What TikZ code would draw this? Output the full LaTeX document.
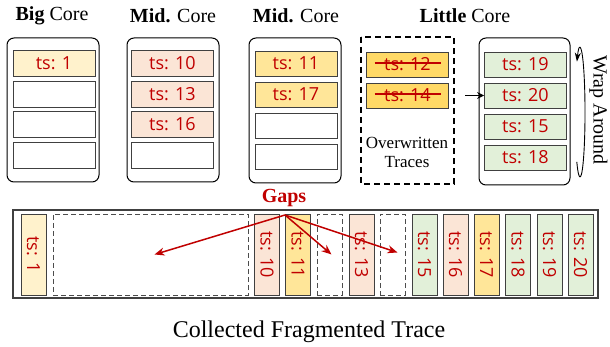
\documentclass[tikz,border=0pt]{standalone}
\usepackage{fontspec}
\setmainfont{Liberation Serif}
\newfontfamily\tsfont{Open Sans}
\usetikzlibrary{arrows.meta,calc}
\definecolor{tsred}{HTML}{C00000}
\definecolor{cyel}{HTML}{FFF2CC}
\definecolor{cpink}{HTML}{FBE5D6}
\definecolor{cgold}{HTML}{FFE699}
\definecolor{cover}{HTML}{FFD966}
\definecolor{cgreen}{HTML}{E2F0D9}
\definecolor{slotline}{HTML}{404040}
\begin{document}
\begin{tikzpicture}[x=1pt,y=-1pt,
  panel/.style={draw=black,line width=1pt,rounded corners=7pt},
  slot/.style={draw=slotline,line width=0.8pt,minimum width=82pt,minimum height=26pt,inner sep=0pt,
    font=\tsfont\fontsize{18}{18}\selectfont,text=tsred},
  vslot/.style={draw=slotline,line width=0.8pt,minimum width=25pt,minimum height=81pt,inner sep=0pt},
  vtxt/.style={font=\tsfont\fontsize{18}{18}\selectfont,text=tsred,rotate=-90},
  gapbox/.style={draw=black!70,line width=0.8pt,dash pattern=on 5pt off 3pt,minimum height=81pt,inner sep=0pt},
  title/.style={font=\fontsize{20}{20}\selectfont},
  gaparrow/.style={draw=tsred,line width=1.5pt,-{Stealth[length=10pt,width=8pt]}}
]
\useasboundingbox (0,0) rectangle (610,347);

% titles
\node[title] (t1) at (52,16) {\textbf{Big} Core};
\node[title] (t2) at (173,16) {\textbf{Mid.} Core};
\node[title] (t3) at (296,16) {\textbf{Mid.} Core};
\node[title] (t4) at (465,16) {\textbf{Little} Core};

% Big core
\draw[panel] (7,38) rectangle (99,182);
\node[slot,fill=cyel] (b1) at (54,63) {ts: 1};
\node[slot] (b2) at (54,94) {};
\node[slot] (b3) at (54,124) {};
\node[slot] (b4) at (54,155) {};

% Mid core 1
\draw[panel] (127,38) rectangle (219,182);
\node[slot,fill=cpink] (m1) at (172.5,63) {ts: 10};
\node[slot,fill=cpink] (m2) at (172.5,94) {ts: 13};
\node[slot,fill=cpink] (m3) at (172.5,124) {ts: 16};
\node[slot] (m4) at (172.5,155) {};

% Mid core 2
\draw[panel] (249,38) rectangle (341,183);
\node[slot,fill=cgold,minimum height=25pt] (n1) at (296,63.5) {ts: 11};
\node[slot,fill=cgold,minimum height=25pt] (n2) at (296,94.5) {ts: 17};
\node[slot,minimum height=25pt] (n3) at (296,125.5) {};
\node[slot,minimum height=25pt] (n4) at (296,156.5) {};

% Overwritten traces
\draw[black,line width=1.5pt,dash pattern=on 6pt off 4pt] (361,37) rectangle (454,184);
\node[slot,fill=cover,minimum height=25pt] (o1) at (407.5,64.5) {ts: 12};
\node[slot,fill=cover,minimum height=25pt] (o2) at (407.5,95.5) {ts: 14};
\draw[tsred,line width=2pt] ($(o1.center)+(-33,-1.5)$) -- ($(o1.center)+(33,-1.5)$);
\draw[tsred,line width=2pt] ($(o2.center)+(-33,-1.5)$) -- ($(o2.center)+(33,-1.5)$);
\node[font=\fontsize{17}{19}\selectfont,align=center] (ow) at (407,152) {Overwritten\\Traces};

% Little core
\draw[panel] (479,38) rectangle (570,185);
\node[slot,fill=cgreen,minimum height=25pt] (l1) at (525.5,64.5) {ts: 19};
\node[slot,fill=cgreen,minimum height=25pt] (l2) at (525.5,95.5) {ts: 20};
\node[slot,fill=cgreen,minimum height=25pt] (l3) at (525.5,126.5) {ts: 15};
\node[slot,fill=cgreen,minimum height=25pt] (l4) at (525.5,157.5) {ts: 18};
\coordinate (ptr) at (465,95.5);
\draw[black,line width=1.5pt,-{Stealth[length=7pt,width=7pt]}] (ptr) -- (l2.west);

% wrap around
\draw[black,line width=0.9pt,-{Stealth[length=9pt,width=6pt]}] (576.8,161.9) arc[start angle=130,end angle=-128,x radius=5,y radius=64.5];
\node[font=\fontsize{20}{20}\selectfont,rotate=-90,inner sep=1pt] (wrap) at (598.5,110) {Wrap Around};

% bottom collected trace
\draw[draw=black!75,line width=1.5pt] (13,210) rectangle (598,298);
\node[vslot,fill=cyel] (c1) at (33.5,254.5) {};
\node[vtxt] at (c1) {ts: 1};
\node[gapbox,minimum width=195pt] (g1) at (150.5,254.5) {};
\node[vslot,fill=cpink] (c10) at (267,254.5) {};
\node[vtxt] at (c10) {ts: 10};
\node[vslot,fill=cgold] (c11) at (298,254.5) {};
\node[vtxt] at (c11) {ts: 11};
\node[gapbox,minimum width=25pt] (g2) at (329.5,254.5) {};
\node[vslot,fill=cpink] (c13) at (361.5,254.5) {};
\node[vtxt] at (c13) {ts: 13};
\node[gapbox,minimum width=25pt] (g3) at (392.5,254.5) {};
\node[vslot,fill=cgreen] (c15) at (424.5,254.5) {};
\node[vtxt] at (c15) {ts: 15};
\node[vslot,fill=cpink] (c16) at (455.5,254.5) {};
\node[vtxt] at (c16) {ts: 16};
\node[vslot,fill=cgold] (c17) at (486.5,254.5) {};
\node[vtxt] at (c17) {ts: 17};
\node[vslot,fill=cgreen] (c18) at (518,254.5) {};
\node[vtxt] at (c18) {ts: 18};
\node[vslot,fill=cgreen] (c19) at (549.5,254.5) {};
\node[vtxt] at (c19) {ts: 19};
\node[vslot,fill=cgreen] (c20) at (580.5,254.5) {};
\node[vtxt] at (c20) {ts: 20};

% gaps
\node[font=\bfseries\fontsize{20}{20}\selectfont,text=tsred] (gaps) at (284,198) {Gaps};
\coordinate (go) at (285,215);
\draw[gaparrow] (go) -- ($(g1.center)+(4,0)$);
\draw[gaparrow] (go) -- ($(g2.center)+(2,0)$);
\draw[gaparrow] (go) -- ($(g3.center)+(5,-2)$);

\node[font=\fontsize{24}{24}\selectfont] (cap) at (309,332) {Collected Fragmented Trace};
\end{tikzpicture}
\end{document}
